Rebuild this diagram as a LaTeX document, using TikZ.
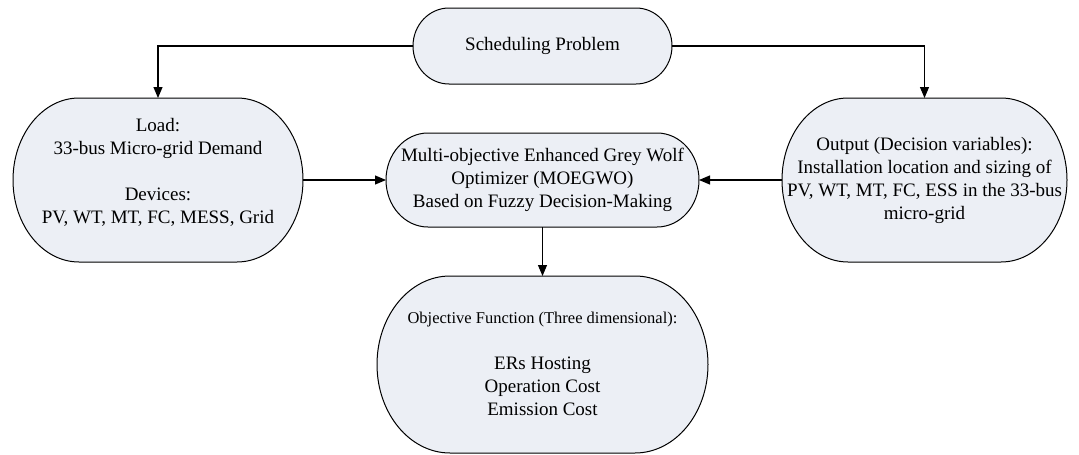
\documentclass[tikz,border=0pt]{standalone}
\usepackage{fontspec}
\setmainfont{Liberation Serif}
\usetikzlibrary{arrows.meta,backgrounds}
\definecolor{termfill}{RGB}{236,239,245}
\tikzset{
  txt/.style={align=center, inner sep=0pt, font=\fontsize{19}{23}\selectfont},
  termline/.style={draw=black, line width=1pt, fill=termfill},
  conn/.style={draw=black, line width=1.1pt, -{Triangle[length=11pt,width=9pt]}},
}
% #1 name, #2 cx, #3 cy (y up), #4 w, #5 h, #6 a (end radius)
\newcommand\termoutline[6]{%
  \path[termline] (#2-#4/2+#6, #3+#5/2) -- (#2+#4/2-#6, #3+#5/2)
    arc[start angle=90, end angle=-90, x radius=#6, y radius=#5/2]
    -- (#2-#4/2+#6, #3-#5/2)
    arc[start angle=-90, end angle=-270, x radius=#6, y radius=#5/2] -- cycle;
  \coordinate (#1-n) at (#2, #3+#5/2);
  \coordinate (#1-s) at (#2, #3-#5/2);
  \coordinate (#1-w) at (#2-#4/2, #3);
  \coordinate (#1-e) at (#2+#4/2, #3);
}
\begin{document}
\begin{tikzpicture}[x=1pt, y=1pt]
\useasboundingbox (0,0) rectangle (1079,-455);
\termoutline{top}{542.5}{-46}{259}{76}{36}
\termoutline{left}{158}{-180}{290}{164}{66}
\termoutline{mid}{542.5}{-180}{313}{94}{42}
\termoutline{right}{924.5}{-180}{285}{164}{66}
\termoutline{bot}{542.5}{-364.5}{331}{177}{73}

\node[txt] (toptext) at (542.5,-46) {Scheduling Problem};
\node[txt] (lefttext) at (158,-172) {Load:\\33-bus Micro-grid Demand\\[23pt]Devices:\\PV, WT, MT, FC, MESS, Grid};
\node[txt] (midtext) at (542.5,-180) {Multi-objective Enhanced Grey Wolf\\Optimizer (MOEGWO)\\Based on Fuzzy Decision-Making};
\node[txt] (righttext) at (924.5,-180) {Output (Decision variables):\\Installation location and sizing of\\PV, WT, MT, FC, ESS in the 33-bus\\micro-grid};
\node[txt] (bottext) at (542.5,-364) {{\fontsize{16.5}{23}\selectfont Objective Function (Three dimensional):}\\[23pt]ERs Hosting\\Operation Cost\\Emission Cost};

\coordinate (lk) at (158,-46);
\coordinate (rk) at (924.5,-46);
\draw[conn] (top-w) -- (lk) -- (left-n);
\draw[conn] (top-e) -- (rk) -- (right-n);
\draw[conn] (left-e) -- (mid-w);
\draw[conn] (right-w) -- (mid-e);
\draw[conn] (mid-s) -- (bot-n);
\end{tikzpicture}
\end{document}
